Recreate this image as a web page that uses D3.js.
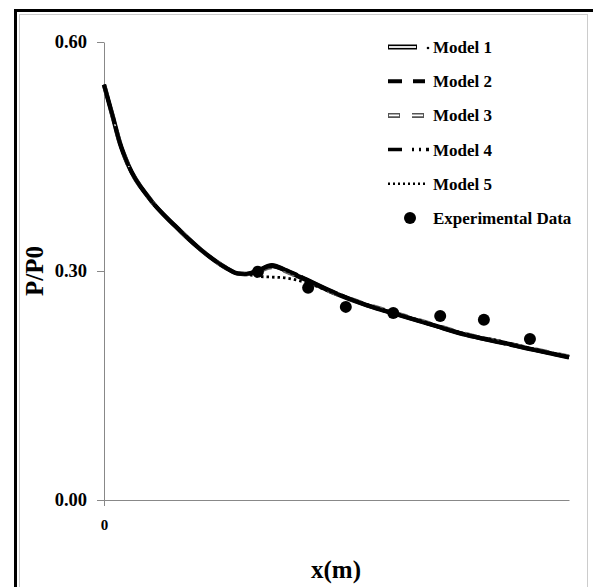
<!DOCTYPE html>
<html>
<head>
<meta charset="utf-8">
<script src="https://cdn.jsdelivr.net/npm/d3@7"></script>
<style>
  body { margin: 0; background: #fff; }
  text { font-family: "Liberation Serif", "Times New Roman", serif; font-weight: bold; }
</style>
</head>
<body>
<svg id="chart" width="593" height="587"></svg>
<script>
// x positions (m, normalised to axis length) shared by the model curves
var xPos = [0, 0.019, 0.034, 0.052, 0.099, 0.153, 0.206, 0.260, 0.286, 0.303, 0.331, 0.361, 0.389, 0.422, 0.492, 0.566, 0.637, 0.708, 0.781, 0.852, 0.923, 1.0];

var model1 = [0.544, 0.502, 0.468, 0.439, 0.394, 0.359, 0.329, 0.305, 0.297, 0.296, 0.300, 0.307, 0.301, 0.292, 0.272, 0.255, 0.242, 0.229, 0.216, 0.207, 0.197, 0.187];
var model2 = [0.544, 0.502, 0.468, 0.439, 0.394, 0.359, 0.329, 0.305, 0.297, 0.296, 0.301, 0.308, 0.302, 0.293, 0.273, 0.255, 0.242, 0.229, 0.216, 0.206, 0.197, 0.187];
var model3 = [0.544, 0.502, 0.468, 0.439, 0.394, 0.359, 0.329, 0.305, 0.297, 0.296, 0.299, 0.305, 0.300, 0.291, 0.272, 0.256, 0.243, 0.230, 0.217, 0.207, 0.198, 0.188];
var model4 = [0.544, 0.502, 0.468, 0.439, 0.394, 0.359, 0.329, 0.305, 0.297, 0.296, 0.300, 0.306, 0.301, 0.292, 0.272, 0.255, 0.242, 0.229, 0.216, 0.207, 0.197, 0.187];
var model5 = [0.544, 0.502, 0.468, 0.439, 0.394, 0.359, 0.329, 0.305, 0.297, 0.296, 0.293, 0.292, 0.291, 0.287, 0.272, 0.256, 0.243, 0.230, 0.217, 0.208, 0.198, 0.188];

var expX = [0.331, 0.439, 0.520, 0.622, 0.723, 0.817, 0.916];
var expY = [0.299, 0.278, 0.253, 0.245, 0.241, 0.236, 0.211];

var yTicks = [0, 0.30, 0.60];
var xTicks = [0];
var legendLabels = ["Model 1", "Model 2", "Model 3", "Model 4", "Model 5", "Experimental Data"];

var svg = d3.select("#chart");

svg.append("rect").attr("width", 593).attr("height", 587).attr("fill", "#fff");

// frame (cropped on the right and bottom like the source)
svg.append("rect").attr("x", 15.5).attr("y", 10.5).attr("width", 620).attr("height", 620)
    .attr("fill", "none").attr("stroke", "#000").attr("stroke-width", 3);
svg.append("rect").attr("x", 19.5).attr("y", 14.5).attr("width", 568).attr("height", 620)
    .attr("fill", "none").attr("stroke", "#ccc").attr("stroke-width", 1);

var x = d3.scaleLinear().domain([0, 1]).range([104, 569]);
var y = d3.scaleLinear().domain([0, 0.6]).range([500, 42]);

var yAxis = svg.append("g")
    .attr("transform", "translate(104,0)")
    .call(d3.axisLeft(y).tickValues(yTicks).tickFormat(d3.format(".2f")).tickSize(7).tickSizeOuter(0).tickPadding(10));
yAxis.selectAll("path, line").attr("stroke", "#888");
yAxis.selectAll("text").attr("fill", "#000").style("font-size", "18.5px");

var xAxis = svg.append("g")
    .attr("transform", "translate(0,500)")
    .call(d3.axisBottom(x).tickValues(xTicks).tickFormat(d3.format("d")).tickSize(6).tickSizeOuter(0).tickPadding(13));
xAxis.selectAll("path, line").attr("stroke", "#888");
xAxis.selectAll("text").attr("fill", "#000").style("font-size", "15px");

svg.append("text")
    .attr("transform", "translate(43,271) rotate(-90)")
    .attr("text-anchor", "middle")
    .style("font-size", "25px")
    .text("P/P0");

svg.append("text")
    .attr("x", 336).attr("y", 578)
    .attr("text-anchor", "middle")
    .style("font-size", "25px")
    .text("x(m)");

var line = d3.line()
    .x(function (d) { return x(d[0]); })
    .y(function (d) { return y(d[1]); })
    .curve(d3.curveMonotoneX);

function pts(vals) { return vals.map(function (v, i) { return [xPos[i], v]; }); }

// Model 1: double line
svg.append("path").attr("d", line(pts(model1))).attr("fill", "none")
    .attr("stroke", "#000").attr("stroke-width", 4.5);
svg.append("path").attr("d", line(pts(model1))).attr("fill", "none")
    .attr("stroke", "#fff").attr("stroke-width", 1.3);
// Model 3: grey double dashes
svg.append("path").attr("d", line(pts(model3))).attr("fill", "none")
    .attr("stroke", "#666").attr("stroke-width", 4.2).attr("stroke-dasharray", "12 12");
svg.append("path").attr("d", line(pts(model3))).attr("fill", "none")
    .attr("stroke", "#ddd").attr("stroke-width", 1.1).attr("stroke-dasharray", "12 12");
// Model 2: long dashes
svg.append("path").attr("d", line(pts(model2))).attr("fill", "none")
    .attr("stroke", "#000").attr("stroke-width", 3.8).attr("stroke-dasharray", "40 4");
// Model 4: dash dot dot
svg.append("path").attr("d", line(pts(model4))).attr("fill", "none")
    .attr("stroke", "#000").attr("stroke-width", 3.3).attr("stroke-dasharray", "30 3 2 3 2 3");
// Model 5: dotted
svg.append("path").attr("d", line(pts(model5))).attr("fill", "none")
    .attr("stroke", "#000").attr("stroke-width", 2.8).attr("stroke-dasharray", "2.5 3");

svg.selectAll(".exp")
    .data(expX.map(function (v, i) { return [v, expY[i]]; }))
    .enter().append("circle")
    .attr("class", "exp")
    .attr("cx", function (d) { return x(d[0]); })
    .attr("cy", function (d) { return y(d[1]); })
    .attr("r", 6)
    .attr("fill", "#000");

// legend
var lg = svg.append("g");
var rowY = function (i) { return 47 + i * 34.2; };
var x0 = 388, x1 = 425;

// Model 1
lg.append("line").attr("x1", x0).attr("x2", 417).attr("y1", rowY(0)).attr("y2", rowY(0))
    .attr("stroke", "#000").attr("stroke-width", 5);
lg.append("line").attr("x1", x0 + 1).attr("x2", 416).attr("y1", rowY(0)).attr("y2", rowY(0))
    .attr("stroke", "#fff").attr("stroke-width", 1.8);
lg.append("circle").attr("cx", 428).attr("cy", rowY(0) + 1).attr("r", 1.3).attr("fill", "#000");
// Model 2
lg.append("line").attr("x1", x0).attr("x2", x1).attr("y1", rowY(1)).attr("y2", rowY(1))
    .attr("stroke", "#000").attr("stroke-width", 4).attr("stroke-dasharray", "14 11");
// Model 3
lg.append("line").attr("x1", x0).attr("x2", x1).attr("y1", rowY(2)).attr("y2", rowY(2))
    .attr("stroke", "#555").attr("stroke-width", 5).attr("stroke-dasharray", "12 12");
lg.append("line").attr("x1", x0).attr("x2", x1).attr("y1", rowY(2)).attr("y2", rowY(2))
    .attr("stroke", "#fff").attr("stroke-width", 1.8).attr("stroke-dasharray", "0 1 10 13 10");
// Model 4
lg.append("line").attr("x1", x0).attr("x2", 429).attr("y1", rowY(3)).attr("y2", rowY(3))
    .attr("stroke", "#000").attr("stroke-width", 3.5).attr("stroke-dasharray", "14 10 2 5 2 5");
// Model 5
lg.append("line").attr("x1", x0).attr("x2", x1).attr("y1", rowY(4)).attr("y2", rowY(4))
    .attr("stroke", "#000").attr("stroke-width", 2.5).attr("stroke-dasharray", "2 3");
// Experimental
lg.append("circle").attr("cx", 410).attr("cy", rowY(5)).attr("r", 6).attr("fill", "#000");

lg.selectAll(".lbl")
    .data(legendLabels)
    .enter().append("text")
    .attr("class", "lbl")
    .attr("x", 433)
    .attr("y", function (d, i) { return rowY(i) + 6; })
    .style("font-size", "17px")
    .text(function (d) { return d; });
</script>
</body>
</html>
